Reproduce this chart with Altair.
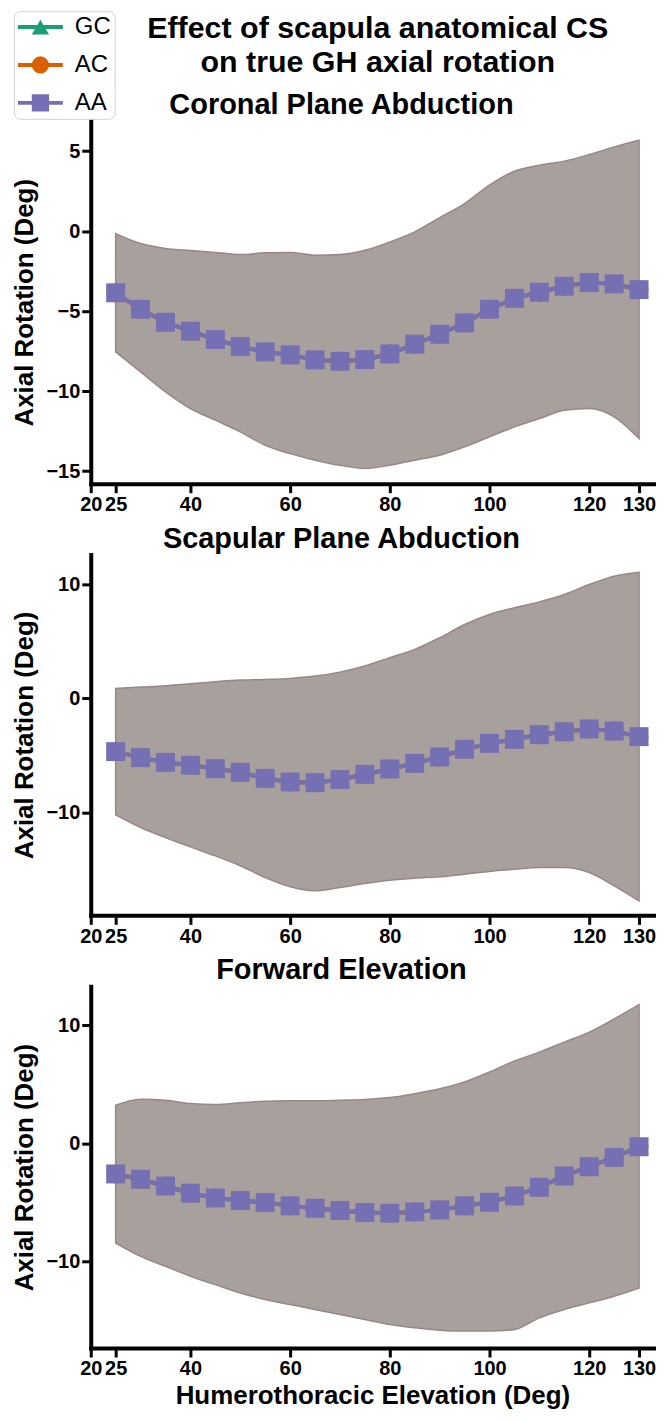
import altair as alt
import pandas as pd

x_vals = [25, 30, 35, 40, 45, 50, 55, 60, 65, 70, 75, 80, 85, 90, 95, 100, 105, 110, 115, 120, 125, 130]
x_ticks = [20, 25, 40, 60, 80, 100, 120, 130]
series_names = ["GC", "AC", "AA"]
series_colors = ["#1b9e77", "#d95f02", "#7570b3"]
series_shapes = ["triangle-up", "circle", "square"]

main_title = ["Effect of scapula anatomical CS", "on true GH axial rotation"]
panel_titles = ["Coronal Plane Abduction", "Scapular Plane Abduction", "Forward Elevation"]
x_title = "Humerothoracic Elevation (Deg)"
y_title = "Axial Rotation (Deg)"
y_domains = [[-15.78, 6.9], [-19.0, 12.6], [-17.3, 13.3]]
y_ticks = [[-15, -10, -5, 0, 5], [-10, 0, 10], [-10, 0, 10]]
panel_heights = [364, 362, 363]

# Coronal plane abduction
cor_mean = [-3.85, -4.88, -5.69, -6.25, -6.77, -7.21, -7.54, -7.73, -8.04, -8.13, -8.02,
            -7.67, -7.06, -6.44, -5.73, -4.88, -4.19, -3.81, -3.44, -3.21, -3.29, -3.65]
cor_upper = [-0.15, -0.77, -1.08, -1.21, -1.33, -1.46, -1.35, -1.33, -1.50, -1.46, -1.19,
             -0.67, -0.04, 0.85, 1.73, 2.88, 3.75, 4.13, 4.38, 4.79, 5.27, 5.69]
cor_lower = [-7.54, -8.79, -10.04, -11.08, -11.81, -12.54, -13.38, -13.90, -14.31, -14.63, -14.83,
             -14.63, -14.31, -14.00, -13.48, -12.85, -12.23, -11.71, -11.19, -11.08, -11.60, -12.96]

# Scapular plane abduction
sca_mean = [-4.66, -5.19, -5.60, -5.86, -6.15, -6.47, -7.00, -7.32, -7.38, -7.11, -6.65,
            -6.18, -5.69, -5.13, -4.46, -3.94, -3.59, -3.18, -2.92, -2.68, -2.86, -3.35]
sca_upper = [0.87, 0.99, 1.11, 1.28, 1.46, 1.60, 1.66, 1.75, 1.95, 2.30, 2.83,
             3.56, 4.29, 5.31, 6.47, 7.35, 7.93, 8.45, 9.10, 9.97, 10.70, 11.05]
sca_lower = [-10.20, -11.31, -12.19, -13.00, -13.79, -14.66, -15.69, -16.50, -16.85, -16.56, -16.21,
             -15.92, -15.74, -15.63, -15.39, -15.16, -14.96, -14.81, -14.81, -15.25, -16.41, -17.73]

# Forward elevation
fwd_mean = [-2.58, -3.03, -3.60, -4.21, -4.61, -4.83, -5.00, -5.28, -5.48, -5.67, -5.84,
            -5.90, -5.79, -5.62, -5.28, -4.97, -4.44, -3.71, -2.75, -1.97, -1.18, -0.28]
fwd_upper = [3.23, 3.74, 3.65, 3.37, 3.29, 3.43, 3.57, 3.60, 3.60, 3.65, 3.71,
             3.88, 4.21, 4.63, 5.20, 6.04, 6.97, 7.72, 8.57, 9.41, 10.53, 11.74]
fwd_lower = [-8.43, -9.55, -10.39, -11.24, -11.94, -12.64, -13.20, -13.62, -14.04, -14.47, -14.89,
             -15.31, -15.59, -15.79, -15.87, -15.87, -15.73, -14.75, -14.04, -13.48, -12.92, -12.22]

# GC and AC means coincide with AA in the figure (hidden behind the AA markers)
panel_means = [
    {"GC": cor_mean, "AC": cor_mean, "AA": cor_mean},
    {"GC": sca_mean, "AC": sca_mean, "AA": sca_mean},
    {"GC": fwd_mean, "AC": fwd_mean, "AA": fwd_mean},
]
panel_bands = [(cor_lower, cor_upper), (sca_lower, sca_upper), (fwd_lower, fwd_upper)]

FONT = "Liberation Sans"
BAND_FILL = "#a8a09d"
BAND_STROKE = "#978789"
PLOT_W = 565

LEG_X = -77
LEG_Y = -110

line_legend = alt.Legend(
    title=None, orient="none", legendX=LEG_X, legendY=LEG_Y,
    symbolType="M-1.2,0H3.3", symbolSize=400, symbolStrokeWidth=4,
    labelFont=FONT, labelFontSize=24, labelColor="black", labelOffset=33,
    rowPadding=14, padding=4, strokeColor="#d3d3d3", cornerRadius=6, fillColor="white",
)
marker_legend = alt.Legend(
    title=None, orient="none", legendX=LEG_X + 10.5, legendY=LEG_Y,
    symbolSize=300, symbolStrokeWidth=0, symbolOpacity=1,
    labelFont=FONT, labelFontSize=24, labelExpr="''", labelOffset=0,
    rowPadding=14, padding=4,
)
marker_fill_scale = alt.Scale(domain=series_names, range=series_colors)
marker_shape_scale = alt.Scale(domain=series_names, range=series_shapes)


def make_panel(i):
    lower, upper = panel_bands[i]
    band_df = pd.DataFrame({"x": x_vals, "lower": lower, "upper": upper})
    rows = []
    for s in series_names:
        for xv, yv in zip(x_vals, panel_means[i][s]):
            rows.append({"x": xv, "value": yv, "series": s, "marker": s})
    mean_df = pd.DataFrame(rows)

    xscale = alt.Scale(domain=[20, 133], nice=False, zero=False)
    yscale = alt.Scale(domain=y_domains[i], nice=False, zero=False)
    last = i == 2
    xaxis = alt.Axis(values=x_ticks, title=x_title if last else None,
                     labelOverlap=False, labelFlush=False, titlePadding=4)
    yaxis = alt.Axis(values=y_ticks[i], title=y_title, labelOverlap=False, labelFlush=False)

    band = alt.Chart(band_df).mark_area(
        fill=BAND_FILL, stroke=BAND_STROKE, strokeWidth=1.5, opacity=1, interpolate="monotone"
    ).encode(
        x=alt.X("x:Q", scale=xscale, axis=xaxis),
        y=alt.Y("lower:Q", scale=yscale, axis=yaxis),
        y2="upper:Q",
    )
    layers = [band]
    for s in series_names:
        base = alt.Chart(mean_df).transform_filter(alt.datum.series == s)
        line = base.mark_line(strokeWidth=4).encode(
            x=alt.X("x:Q", scale=xscale, axis=xaxis),
            y=alt.Y("value:Q", scale=yscale, axis=yaxis),
            color=alt.Color("series:N", sort=series_names,
                            scale=alt.Scale(range=series_colors), legend=line_legend),
        )
        pts = base.mark_point(filled=True, size=361, opacity=1, strokeWidth=0).encode(
            x=alt.X("x:Q", scale=xscale, axis=xaxis),
            y=alt.Y("value:Q", scale=yscale, axis=yaxis),
            fill=alt.Fill("marker:N", scale=marker_fill_scale, legend=marker_legend),
            shape=alt.Shape("marker:N", scale=marker_shape_scale, legend=marker_legend),
        )
        layers += [line, pts]
    return alt.layer(*layers).properties(
        width=PLOT_W, height=panel_heights[i],
        title=alt.TitleParams(panel_titles[i], fontSize=29, fontWeight="bold", font=FONT,
                              color="black", dx=-31, offset=1),
    )


chart = alt.vconcat(*[make_panel(i) for i in range(3)], spacing=10).properties(
    title=alt.TitleParams(main_title, fontSize=30.5, fontWeight="bold", font=FONT,
                          color="black", lineHeight=34, anchor="middle", dx=44, offset=-68),
    padding={"left": 4, "right": 0, "top": 0, "bottom": 0},
).configure_view(stroke=None).configure_axis(
    grid=False, domainColor="black", domainWidth=4, domainCap="square",
    tickColor="black", tickWidth=3, tickSize=9,
    labelFont=FONT, labelFontSize=20, labelFontWeight="bold", labelColor="black", labelPadding=2,
    titleFont=FONT, titleFontSize=26, titleFontWeight="bold", titleColor="black", titlePadding=8,
)

chart.save("out.html", embed_options={"renderer": "svg", "actions": False})
